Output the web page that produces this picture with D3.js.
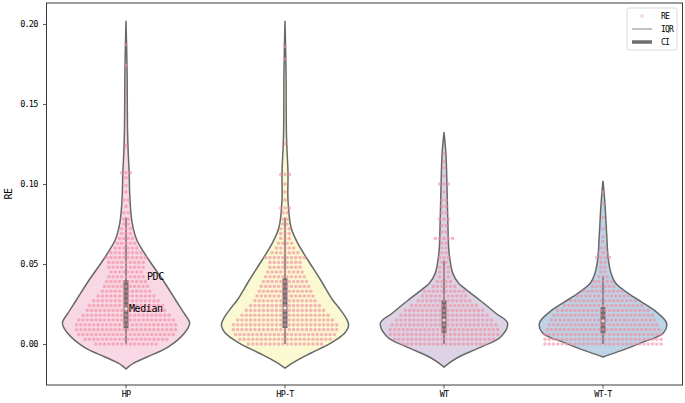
<!DOCTYPE html>
<html lang="en">
<head>
<meta charset="utf-8">
<script src="https://cdn.jsdelivr.net/npm/d3@7"></script>
<style>
  body { margin: 0; background: #fff; }
  text { font-family: "DejaVu Sans Mono", "Liberation Mono", monospace; fill: #000; }
</style>
</head>
<body>
<svg id="chart" width="685" height="403"></svg>
<script>
  // categories and y ticks
  const groups = ['HP', 'HP-T', 'WT', 'WT-T'];
  const yTicks = [0, 0.05, 0.10, 0.15, 0.20];
  const fills = ['#f9d8e5', '#fbf9d1', '#ddd3e5', '#bed3e6'];

  // violin outlines: RE value and relative density (1 = widest)
  const hpOutV  = [-0.0156, -0.0138, -0.0119, -0.0081, -0.0019, 0.0069, 0.0131, 0.0194, 0.0275, 0.040, 0.0525, 0.065, 0.073, 0.079, 0.092, 0.107, 0.115, 0.132, 0.173, 0.202];
  const hpOutD  = [0, 0.05, 0.12, 0.33, 0.66, 0.92, 1.0, 0.91, 0.78, 0.58, 0.36, 0.17, 0.11, 0.085, 0.06, 0.05, 0.04, 0.025, 0.016, 0];
  const hptOutV = [-0.015, -0.0113, -0.0056, 0.0006, 0.0069, 0.0119, 0.0169, 0.023, 0.0275, 0.040, 0.0525, 0.063, 0.073, 0.090, 0.107, 0.130, 0.170, 0.202];
  const hptOutD = [0, 0.14, 0.41, 0.72, 0.94, 1.0, 0.95, 0.84, 0.75, 0.56, 0.36, 0.2, 0.094, 0.047, 0.047, 0.023, 0.016, 0];
  const wtOutV  = [-0.0144, -0.0119, -0.0081, -0.0019, 0.0044, 0.0131, 0.0194, 0.0275, 0.0356, 0.038, 0.044, 0.057, 0.0775, 0.098, 0.119, 0.1325];
  const wtOutD  = [0, 0.08, 0.23, 0.58, 0.89, 1.0, 0.81, 0.56, 0.3, 0.23, 0.14, 0.08, 0.06, 0.047, 0.03, 0];
  const wttOutV = [-0.0081, -0.0063, -0.0038, 0.0006, 0.0069, 0.0131, 0.0213, 0.0294, 0.038, 0.0444, 0.054, 0.067, 0.088, 0.102];
  const wttOutD = [0, 0.125, 0.31, 0.59, 0.95, 1.0, 0.8, 0.48, 0.2, 0.125, 0.08, 0.06, 0.03, 0];

  // swarm rows: RE value and number of samples at that value
  const hpRowV  = [0, .003, .006, .009, .012, .015, .018, .021, .024, .027, .030, .033, .036, .039, .042, .045, .048, .051, .054, .057, .060, .063, .066, .069, .072, .075, .078, .082, .086, .090, .095, .099, .104, .107, .124, .174, .187];
  const hpRowN  = [15, 20, 23, 24, 24, 23, 21, 19, 18, 16, 14, 12, 11, 10, 9, 8, 9, 9, 10, 8, 6, 5, 4, 3, 3, 2, 2, 2, 1, 2, 1, 1, 1, 3, 1, 1, 1];
  const hptRowV = [0, .003, .006, .009, .012, .015, .018, .021, .024, .027, .030, .033, .036, .039, .042, .045, .048, .051, .054, .057, .060, .063, .066, .069, .072, .075, .078, .082, .085, .090, .095, .100, .106, .125, .178, .186];
  const hptRowN = [18, 22, 24, 25, 25, 23, 21, 19, 17, 15, 14, 13, 12, 11, 10, 9, 8, 8, 10, 7, 5, 4, 3, 3, 3, 2, 2, 2, 3, 1, 1, 1, 3, 1, 1, 1];
  const wtRowV  = [0, .003, .006, .009, .012, .015, .018, .021, .024, .027, .030, .033, .036, .039, .042, .045, .048, .051, .054, .057, .060, .063, .066, .070, .074, .078, .082, .086, .090, .095, .100, .105, .110, .114, .119];
  const wtRowN  = [20, 24, 26, 26, 25, 23, 21, 19, 16, 13, 11, 10, 6, 4, 3, 3, 3, 2, 3, 2, 2, 2, 5, 2, 2, 3, 2, 2, 2, 1, 3, 1, 1, 1, 1];
  const wttRowV = [0, .003, .006, .009, .012, .015, .018, .021, .024, .027, .030, .033, .036, .039, .042, .045, .048, .051, .054, .057, .060, .064, .067, .072, .079, .088, .095];
  const wttRowN = [28, 28, 28, 27, 26, 25, 24, 22, 19, 16, 13, 10, 6, 5, 3, 2, 2, 2, 4, 3, 2, 1, 1, 1, 1, 1, 1];

  // inner box: whiskers, quartiles, median
  const whiskLo = [0, 0, 0, 0];
  const whiskHi = [0.079, 0.079, 0.052, 0.0425];
  const q1 = [0.010, 0.010, 0.007, 0.007];
  const q3 = [0.040, 0.041, 0.0275, 0.023];
  const medians = [0.022, 0.0225, 0.015, 0.0144];

  const outlines = [[hpOutV, hpOutD], [hptOutV, hptOutD], [wtOutV, wtOutD], [wttOutV, wttOutD]];
  const rows = [[hpRowV, hpRowN], [hptRowV, hptRowN], [wtRowV, wtRowN], [wttRowV, wttRowN]];

  const pLeft = 46.5, pRight = 682.5, pTop = 3, pBottom = 385;
  const svg = d3.select('#chart');

  const x = d3.scaleBand().domain(groups).range([pLeft, pRight]).padding(0);
  const y = d3.scaleLinear().domain([-0.0256, 0.2131]).range([pBottom, pTop]);
  const w = d3.scaleLinear().domain([0, 1]).range([0, x.bandwidth() * 0.4]);

  const area = d3.area()
    .curve(d3.curveCatmullRom.alpha(0.5))
    .y(d => y(d[0]))
    .x0(d => d[2] - w(d[1]))
    .x1(d => d[2] + w(d[1]));

  groups.forEach((g, i) => {
    const cx = x(g) + x.bandwidth() / 2;
    const [vs, ds] = outlines[i];
    const pts = vs.map((v, j) => [v, ds[j], cx]);
    svg.append('path')
      .attr('d', area(pts))
      .attr('fill', fills[i])
      .attr('stroke', '#686868')
      .attr('stroke-width', 1.5);

    // whisker + box
    svg.append('line')
      .attr('x1', cx).attr('x2', cx)
      .attr('y1', y(whiskLo[i])).attr('y2', y(whiskHi[i]))
      .attr('stroke', '#6e6e6e').attr('stroke-width', 1.5);
    svg.append('rect')
      .attr('x', cx - 2.5).attr('width', 5)
      .attr('y', y(q3[i])).attr('height', y(q1[i]) - y(q3[i]))
      .attr('fill', '#6e6e6e');
    svg.append('circle')
      .attr('cx', cx).attr('cy', y(medians[i])).attr('r', 1.6)
      .attr('fill', '#fff');
  });

  // swarm points
  const sp = 4.3;
  groups.forEach((g, i) => {
    const cx = x(g) + x.bandwidth() / 2;
    const [vs, ns] = rows[i];
    const dots = [];
    vs.forEach((v, j) => {
      for (let k = 0; k < ns[j]; k++) dots.push({ v: v, off: (k - (ns[j] - 1) / 2) * sp });
    });
    svg.append('g').selectAll('circle')
      .data(dots)
      .join('circle')
      .attr('cx', d => cx + d.off)
      .attr('cy', d => y(d.v))
      .attr('r', 1.8)
      .attr('fill', '#f08ca0')
      .attr('fill-opacity', 0.6);
  });

  // axes
  const yAxis = svg.append('g')
    .attr('transform', `translate(${pLeft},0)`)
    .call(d3.axisLeft(y).tickValues(yTicks).tickFormat(d3.format('.2f')).tickSize(3.5).tickPadding(5.5));
  const xAxis = svg.append('g')
    .attr('transform', `translate(0,${pBottom})`)
    .call(d3.axisBottom(x).tickSize(3.5).tickPadding(2));
  [xAxis, yAxis].forEach(a => {
    a.select('.domain').remove();
    a.selectAll('line').attr('stroke', '#333').attr('stroke-width', 0.8);
    a.selectAll('text').style('font-family', '"DejaVu Sans Mono", monospace')
      .attr('font-size', 8.5).attr('letter-spacing', -0.8).attr('fill', '#000');
  });

  svg.append('rect')
    .attr('x', pLeft).attr('y', pTop)
    .attr('width', pRight - pLeft).attr('height', pBottom - pTop)
    .attr('fill', 'none').attr('stroke', '#3a3a3a').attr('stroke-width', 1);

  svg.append('text')
    .attr('transform', `translate(12,${(pTop + pBottom) / 2}) rotate(-90)`)
    .attr('text-anchor', 'middle')
    .attr('font-size', 10).attr('letter-spacing', -0.6)
    .text('RE');

  // annotations on HP
  const hpx = x('HP') + x.bandwidth() / 2;
  svg.append('text')
    .attr('x', hpx + 21).attr('y', y(0.042)).attr('dy', '0.35em')
    .attr('font-size', 10).attr('letter-spacing', -0.4)
    .text('PDC');
  svg.append('text')
    .attr('x', hpx + 3).attr('y', y(medians[0])).attr('dy', '0.35em')
    .attr('font-size', 10).attr('letter-spacing', -0.4)
    .text('Median');

  // legend
  const lg = svg.append('g').attr('transform', 'translate(627,8)');
  lg.append('rect').attr('width', 50).attr('height', 42).attr('rx', 2)
    .attr('fill', '#fff').attr('stroke', '#d0d0d0').attr('stroke-width', 0.8);
  lg.append('circle').attr('cx', 15).attr('cy', 8).attr('r', 1.8)
    .attr('fill', '#f08ca0').attr('fill-opacity', 0.4);
  lg.append('line').attr('x1', 5).attr('x2', 25).attr('y1', 21).attr('y2', 21)
    .attr('stroke', '#9a9a9a').attr('stroke-width', 1.2);
  lg.append('line').attr('x1', 5).attr('x2', 25).attr('y1', 34).attr('y2', 34)
    .attr('stroke', '#6e6e6e').attr('stroke-width', 3.5);
  ['RE', 'IQR', 'CI'].forEach((t, i) => {
    lg.append('text').attr('x', 34).attr('y', 8 + i * 13).attr('dy', '0.35em')
      .attr('font-size', 8).attr('letter-spacing', -0.8)
      .text(t);
  });
</script>
</body>
</html>
